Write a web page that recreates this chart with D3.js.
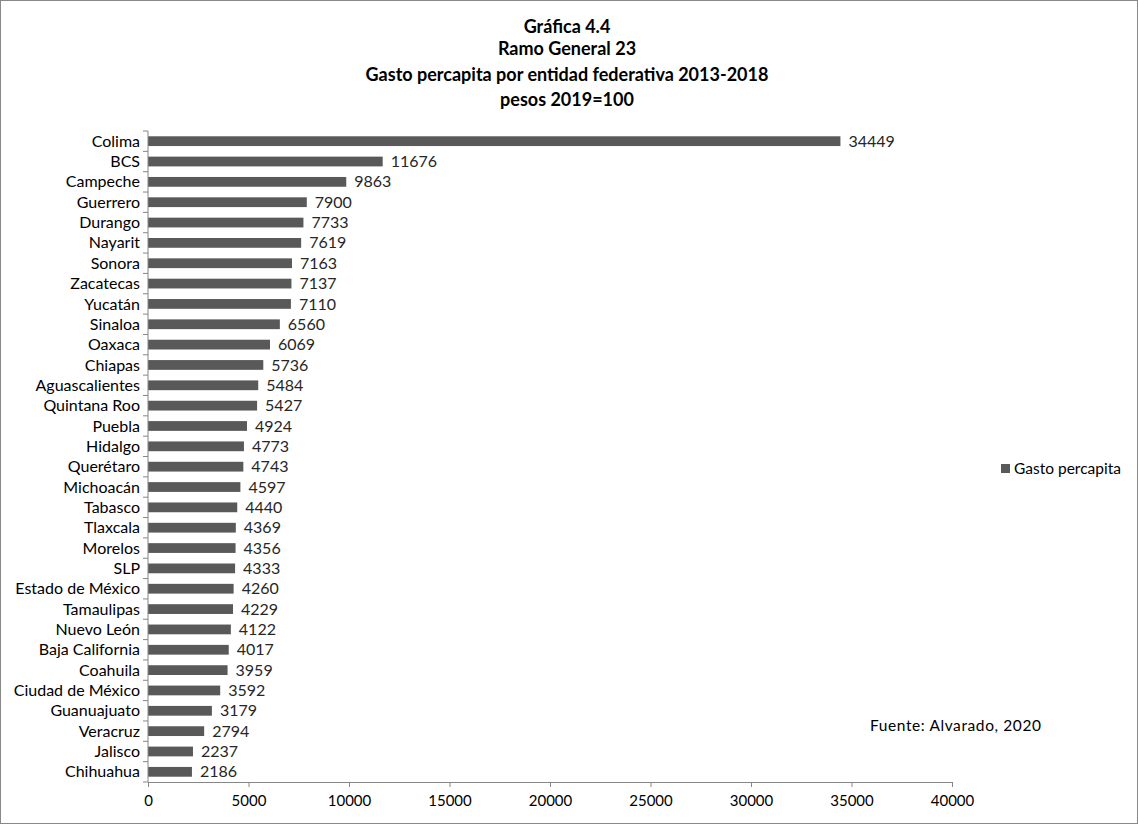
<!DOCTYPE html>
<html><head><meta charset="utf-8">
<script src="https://cdn.jsdelivr.net/npm/d3@7"></script>
<style>body{margin:0;background:#fff}svg{display:block}text{font-family:Lato,"Open Sans",sans-serif}</style>
</head><body>
<svg id="c" width="1138" height="824"></svg>
<script>
const categories = ["Colima","BCS","Campeche","Guerrero","Durango","Nayarit","Sonora","Zacatecas","Yucatán","Sinaloa","Oaxaca","Chiapas","Aguascalientes","Quintana Roo","Puebla","Hidalgo","Querétaro","Michoacán","Tabasco","Tlaxcala","Morelos","SLP","Estado de México","Tamaulipas","Nuevo León","Baja California","Coahuila","Ciudad de México","Guanuajuato","Veracruz","Jalisco","Chihuahua"];
const values = [34449,11676,9863,7900,7733,7619,7163,7137,7110,6560,6069,5736,5484,5427,4924,4773,4743,4597,4440,4369,4356,4333,4260,4229,4122,4017,3959,3592,3179,2794,2237,2186];
const xTicks = [0,5000,10000,15000,20000,25000,30000,35000,40000];
const titleLines = ["Gráfica 4.4","Ramo General 23","Gasto percapita por entidad federativa 2013-2018","pesos 2019=100"];
const seriesName = "Gasto percapita";
const source = "Fuente: Alvarado, 2020";

const svg = d3.select("#c");
svg.append("rect").attr("x",0.5).attr("y",0.5).attr("width",1137).attr("height",823)
  .attr("fill","#fff").attr("stroke","#888");

const x = d3.scaleLinear().domain([0,40000]).range([148,952]);
const y = d3.scaleBand().domain(categories).range([131,782]).paddingInner(0.52).paddingOuter(0.26);
const axisCol = "#868686";

// title
svg.append("g").selectAll("text").data(titleLines).join("text")
  .attr("x",567).attr("y",(d,i)=>[33,55,81,106][i])
  .attr("text-anchor","middle").attr("font-size",18).attr("font-weight","bold").attr("fill","#000")
  .text(d=>d);

// bars
svg.append("g").selectAll("rect").data(values).join("rect")
  .attr("x",x(0)).attr("y",(d,i)=>y(categories[i]))
  .attr("width",d=>x(d)-x(0)).attr("height",y.bandwidth()).attr("fill","#595959");

// value labels
svg.append("g").selectAll("text").data(values).join("text")
  .attr("x",d=>x(d)+8).attr("y",(d,i)=>y(categories[i])+y.bandwidth()/2)
  .attr("dy","0.35em").attr("font-size",16).attr("fill","#262626").text(d=>d);

// y axis
const yAxis = svg.append("g").attr("transform",`translate(${x(0)},0)`);
yAxis.append("line").attr("x1",0).attr("x2",0).attr("y1",131).attr("y2",782).attr("stroke",axisCol);
const bounds = d3.range(categories.length+1).map(i=>131+i*(651/categories.length));
yAxis.selectAll("line.t").data(bounds).join("line").attr("class","t")
  .attr("x1",-5).attr("x2",0).attr("y1",d=>d).attr("y2",d=>d).attr("stroke",axisCol);
svg.append("g").selectAll("text").data(categories).join("text")
  .attr("x",140).attr("y",d=>y(d)+y.bandwidth()/2).attr("dy","0.35em")
  .attr("text-anchor","end").attr("font-size",16).attr("fill","#000").text(d=>d);

// x axis
const xAxis = svg.append("g").attr("transform","translate(0,782)")
  .call(d3.axisBottom(x).tickValues(xTicks).tickSize(5).tickSizeOuter(0).tickFormat(d3.format("d")).tickPadding(8));
xAxis.select(".domain").attr("stroke",axisCol);
xAxis.selectAll(".tick line").attr("stroke",axisCol);
xAxis.selectAll(".tick text").attr("font-size",15).attr("fill","#000").attr("font-family","Lato,sans-serif");

// legend
svg.append("rect").attr("x",1001).attr("y",464).attr("width",9).attr("height",9).attr("fill","#595959");
svg.append("text").attr("x",1014).attr("y",469).attr("dy","0.35em").attr("font-size",15.5).attr("fill","#000").text(seriesName);

// source
svg.append("text").attr("x",870).attr("y",726).attr("dy","0.35em").attr("font-size",15.5)
  .attr("letter-spacing","0.6px").attr("fill","#000").text(source);
</script>
</body></html>
